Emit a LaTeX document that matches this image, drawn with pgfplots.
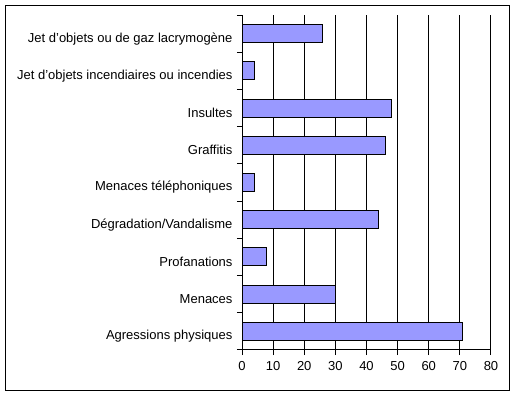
\documentclass[border=0pt]{standalone}
\usepackage{fontspec}
\setmainfont{Liberation Sans}
\usepackage{pgfplots}
\pgfplotsset{compat=1.18}
\definecolor{barfill}{RGB}{153,153,255}
\begin{document}
\fontsize{13bp}{15bp}\selectfont
\begin{tikzpicture}
\useasboundingbox (0,0) rectangle (516bp,397bp);
\draw[line width=1bp] (5.5bp,6.5bp) rectangle (509.5bp,391.5bp);
\begin{axis}[
  at={(242bp,47bp)}, anchor=south west,
  scale only axis, width=249bp, height=335bp,
  xmin=0, xmax=80, ymin=-0.5, ymax=8.5,
  xbar, bar width=18bp,
  axis x line*=bottom, axis y line*=left,
  axis line style={line width=1bp},
  xtick={0,10,...,80},
  ytick={-0.5,0.5,...,8.5},
  y tick label as interval,
  yticklabels={Agressions physiques,Menaces,Profanations,Dégradation/Vandalisme,Menaces téléphoniques,Graffitis,Insultes,Jet d’objets incendiaires ou incendies,Jet d’objets ou de gaz lacrymogène},
  tick align=outside, major tick length=5bp,
  tick style={line width=1bp, black},
  xmajorgrids, grid style={line width=1bp, black},
  /pgf/number format/assume math mode=true,
  tick label style={font=\fontsize{13bp}{15bp}\selectfont},
  yticklabel style={yshift=-5bp},
  xticklabel style={yshift=-2bp},
]
\addplot[fill=barfill, draw=black, line width=1bp] coordinates {
(71,0) (30,1) (8,2) (44,3) (4,4) (46,5) (48,6) (4,7) (26,8)};
\end{axis}
\end{tikzpicture}
\end{document}
